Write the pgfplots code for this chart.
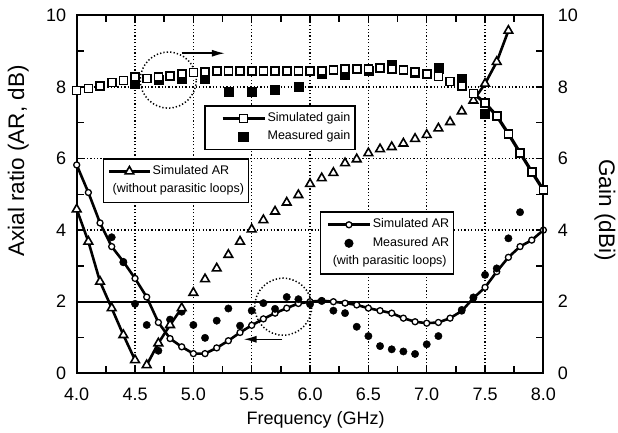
\documentclass[border=0pt]{standalone}
\usepackage{fontspec}
\setmainfont{Liberation Sans}
\usepackage{pgfplots}
\pgfplotsset{compat=1.18}
\usetikzlibrary{arrows.meta}

\newcommand{\legfont}{\fontsize{12.5}{14}\selectfont}

\pgfplotsset{
  base/.style={
    width=466.7pt, height=358pt, scale only axis,
    xmin=4, xmax=8, ymin=0, ymax=10,
    clip=false,
    /pgf/number format/assume math mode=true,
    tick label style={font=\fontsize{18}{20}\selectfont},
    legend cell align=left,
  },
  legbox/.style={
    draw=black, line width=1.6pt, fill=white,
    font=\legfont,
    inner xsep=3pt, inner ysep=5pt, row sep=3.5pt,
    nodes={inner sep=1.5pt, text height=9pt, text depth=3pt},
  },
  % legend samples, one length for each box
  limgA/.style={legend image code/.code={\path (0pt,0pt); \draw[mark repeat=2,mark phase=2,##1] plot coordinates {(13pt,0pt)(34pt,0pt)(55pt,0pt)};}},
  limgB/.style={legend image code/.code={\path (0pt,0pt); \draw[mark repeat=2,mark phase=2,##1] plot coordinates {(1pt,0pt)(21.5pt,0pt)(42pt,0pt)};}},
  limgC/.style={legend image code/.code={\path (0pt,0pt); \draw[mark repeat=2,mark phase=2,##1] plot coordinates {(3pt,0pt)(24pt,0pt)(45pt,0pt)};}},
}

\pgfplotstableread{
f g
4.0 7.90
4.1 7.96
4.2 8.03
4.3 8.12
4.4 8.18
4.5 8.27
4.6 8.24
4.7 8.27
4.8 8.30
4.9 8.36
5.0 8.40
5.1 8.42
5.2 8.45
5.3 8.45
5.4 8.45
5.5 8.45
5.6 8.45
5.7 8.45
5.8 8.45
5.9 8.45
6.0 8.45
6.1 8.45
6.2 8.48
6.3 8.50
6.4 8.50
6.5 8.50
6.6 8.52
6.7 8.50
6.8 8.47
6.9 8.42
7.0 8.36
7.1 8.29
7.2 8.15
7.3 8.03
7.4 7.82
7.5 7.55
7.6 7.19
7.7 6.69
7.8 6.16
7.9 5.63
8.0 5.12
}\simgain

\pgfplotstableread{
f g
4.5 8.08
4.7 8.19
4.9 8.24
5.1 8.24
5.3 7.87
5.5 7.87
5.7 7.93
5.9 8.00
6.1 8.38
6.3 8.33
6.5 8.45
6.7 8.62
6.9 8.40
7.1 8.52
7.3 8.23
7.5 7.26
}\measgain

\pgfplotstableread{
f ar
4.0 5.82
4.1 5.05
4.2 4.20
4.3 3.54
4.4 3.12
4.5 2.65
4.6 2.13
4.7 1.42
4.8 0.97
4.9 0.74
5.0 0.55
5.1 0.55
5.2 0.71
5.3 0.91
5.4 1.14
5.5 1.34
5.6 1.52
5.7 1.68
5.8 1.82
5.9 1.95
6.0 2.00
6.1 2.03
6.2 2.00
6.3 1.96
6.4 1.91
6.5 1.82
6.6 1.75
6.7 1.68
6.8 1.54
6.9 1.44
7.0 1.40
7.1 1.42
7.2 1.54
7.3 1.74
7.4 2.10
7.5 2.40
7.6 2.84
7.7 3.24
7.8 3.54
7.9 3.72
8.0 4.00
}\simar

\pgfplotstableread{
f ar
4.3 3.80
4.4 3.10
4.5 1.94
4.6 1.35
4.7 0.63
4.8 1.50
4.9 1.72
5.0 1.35
5.1 0.99
5.2 1.47
5.3 1.81
5.4 1.33
5.5 1.75
5.6 1.96
5.7 1.80
5.8 2.13
5.9 2.07
6.0 1.93
6.1 2.02
6.2 1.75
6.3 1.68
6.4 1.30
6.5 1.04
6.6 0.76
6.7 0.67
6.8 0.61
6.9 0.54
7.0 0.81
7.1 1.04
7.3 1.77
7.4 2.12
7.5 2.75
7.6 2.93
7.7 3.77
7.8 4.50
}\measar

\pgfplotstableread{
f ar
4.0 4.58
4.1 3.68
4.2 2.56
4.3 1.82
4.4 1.07
4.5 0.37
4.6 0.23
4.7 0.84
4.8 1.35
4.9 1.82
5.0 2.25
5.1 2.63
5.2 2.93
5.3 3.31
5.4 3.68
5.5 4.02
5.6 4.28
5.7 4.52
5.8 4.77
5.9 4.98
6.0 5.29
6.1 5.45
6.2 5.60
6.3 5.87
6.4 5.98
6.5 6.15
6.6 6.26
6.7 6.32
6.8 6.42
6.9 6.55
7.0 6.66
7.1 6.84
7.2 7.02
7.3 7.32
7.4 7.62
7.5 8.09
7.6 8.70
7.7 9.57
}\noloop

\begin{document}
\begin{tikzpicture}
\useasboundingbox (-76.7pt,-59.7pt) rectangle (541.3pt,373.3pt);

% main frame, grid and AR with parasitic loops
\begin{axis}[base,
    axis line style={line width=2pt},
    xtick={4.0,4.5,5.0,5.5,6.0,6.5,7.0,7.5,8.0},
    ytick={0,2,4,6,8,10},
    minor x tick num=1, minor y tick num=1,
    tick align=inside, major tick length=7pt, minor tick length=7pt,
    tick style={line width=1.5pt, black},
    xticklabel style={/pgf/number format/fixed, /pgf/number format/fixed zerofill,
        /pgf/number format/precision=1, yshift=-11pt},
    yticklabel style={xshift=-7pt},
    xmajorgrids, ymajorgrids,
    grid style={black, line width=1.3pt, dash pattern=on 1.3pt off 2.1pt},
    xlabel={Frequency (GHz)},
    xlabel style={font=\fontsize{18}{20}\selectfont, at={(axis description cs:0.512,-0.13)}, anchor=center},
    ylabel={Axial ratio (AR, dB)},
    ylabel style={font=\fontsize{22.5}{24}\selectfont, at={(axis description cs:-0.125,0.593)}, anchor=center},
    legend style={legbox, at={(0.521,0.452)}, anchor=north west},
]
\addplot[forget plot, black, line width=2pt] coordinates {(4,2)(8,2)};
\addplot[forget plot, black, line width=2.6pt, mark=*, mark size=3pt,
    mark options={fill=white, draw=black, line width=1.3pt}] table[x=f,y=ar] {\simar};
\addplot[forget plot, only marks, mark=*, mark size=3.7pt, black] table[x=f,y=ar] {\measar};
\addlegendimage{black, line width=2.6pt, mark=*, mark size=3pt, mark options={fill=white, draw=black, line width=1.3pt}, limgC}
\addlegendentry{Simulated AR}
\addlegendimage{only marks, mark=*, mark size=3.7pt, black, limgC}
\addlegendentry{Measured AR}
\addlegendimage{empty legend}
\addlegendentry{\hspace*{-40pt}(with parasitic loops)}

\draw[black, line width=1.5pt, dash pattern=on 1.3pt off 2.1pt] (axis cs:4.785,8.19) circle[radius=28pt];
\draw[black, line width=1.5pt, dash pattern=on 1.3pt off 2.1pt] (axis cs:5.77,1.86) circle[radius=28.5pt];
\draw[black, line width=1.5pt, -{Latex[length=13pt,width=7pt]}] (axis cs:4.9,8.94) -- (axis cs:5.27,8.94);
\draw[black, line width=1.5pt, -{Latex[length=13pt,width=7pt]}] (axis cs:5.76,0.95) -- (axis cs:5.43,0.95);
\end{axis}

% AR without parasitic loops
\begin{axis}[base, hide axis,
    legend style={legbox, at={(0.056,0.601)}, anchor=north west},
]
\addplot[forget plot, black, line width=2.6pt] table[x=f,y=ar] {
f ar
4.0 4.58
4.1 3.68
4.2 2.56
4.3 1.82
4.4 1.07
4.5 0.37
};
\addplot[forget plot, black, line width=2.6pt] table[x=f,y=ar] {
f ar
4.6 0.23
4.7 0.84
4.8 1.35
4.9 1.82
};
\addplot[forget plot, black, line width=2.6pt] table[x=f,y=ar] {
f ar
7.4 7.62
7.5 8.09
7.6 8.70
7.7 9.57
};
\addplot[forget plot, only marks, mark=triangle*, mark size=5pt,
    mark options={fill=white, draw=black, line width=1.6pt}] table[x=f,y=ar] {\noloop};
\addlegendimage{black, line width=2.6pt, mark=triangle*, mark size=5pt, mark options={fill=white, draw=black, line width=1.6pt}, limgB}
\addlegendentry{Simulated AR}
\addlegendimage{empty legend}
\addlegendentry{\hspace*{-40pt}(without parasitic loops)}
\end{axis}

% gain, right axis
\begin{axis}[base, hide x axis, axis y line*=right,
    axis line style={line width=2pt},
    ytick={0,2,4,6,8,10},
    major tick length=0pt, minor tick length=0pt,
    yticklabel style={xshift=11pt},
    ylabel={Gain (dBi)},
    ylabel style={font=\fontsize{22.5}{24}\selectfont, at={(axis description cs:1.132,0.456)}, anchor=center, rotate=180},
    legend style={legbox, at={(0.273,0.749)}, anchor=north west},
]
\addplot[forget plot, only marks, mark=square*, mark size=4.6pt, black] table[x=f,y=g] {\measgain};
\addplot[forget plot, black, line width=3.2pt] table[x=f,y=g] {
f g
7.4 7.82
7.5 7.55
7.6 7.19
7.7 6.69
7.8 6.16
7.9 5.63
8.0 5.12
};
\addplot[forget plot, only marks, mark=square*, mark size=4pt,
    mark options={fill=white, draw=black, line width=1.6pt}] table[x=f,y=g] {\simgain};
\addlegendimage{black, line width=3.2pt, mark=square*, mark size=4pt, mark options={fill=white, draw=black, line width=1.6pt}, limgA}
\addlegendentry{Simulated gain}
\addlegendimage{only marks, mark=square*, mark size=4.6pt, black, limgA}
\addlegendentry{Measured gain}
\end{axis}
\end{tikzpicture}
\end{document}
